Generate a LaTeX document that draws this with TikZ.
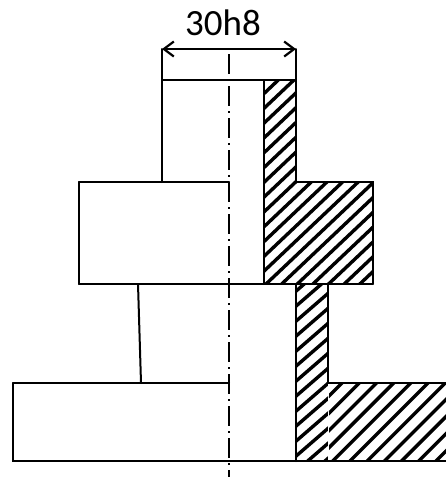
\documentclass[tikz,border=0pt]{standalone}
\usepackage{fontspec}
\setmainfont{Carlito}
\usetikzlibrary{arrows.meta}
\tikzset{
  outline/.style={line width=2pt,black,line cap=round,line join=miter},
  hatchline/.style={line width=3.4pt,black},
  axis/.style={line width=1.7pt,black,dash pattern=on 20pt off 5pt on 2pt off 5pt},
  dimline/.style={line width=2pt,black,{Straight Barb[length=10pt,width=15pt,line width=2.2pt]}-{Straight Barb[length=10pt,width=15pt,line width=2.2pt]}},
  dimtext/.style={font=\fontsize{37}{37}\selectfont,text=black,inner sep=0pt}
}
\begin{document}
\begin{tikzpicture}[x=1pt,y=-1pt]
\useasboundingbox (0,0) rectangle (446,477);
\fill[white] (0,0) rectangle (446,477);
% hatching: upper section
\begin{scope}
  \clip (264,80) -- (296,80) -- (296,182) -- (373,182) -- (373,284) -- (264,284) -- cycle;
  \foreach \k in {0,...,30}{
    \draw[hatchline] (250,{92+\k*14.8}) -- (400,{92+\k*14.8-142});
  }
\end{scope}
% hatching: lower sleeve
\begin{scope}
  \clip (296,284) -- (328,284) -- (328,461) -- (296,461) -- cycle;
  \foreach \k in {0,...,20}{
    \draw[hatchline] (280,{305+\k*15}) -- (340,{305+\k*15-52});
  }
\end{scope}
% hatching: flange
\begin{scope}
  \clip (329,383) -- (446,383) -- (446,461) -- (329,461) -- cycle;
  \foreach \k in {0,...,20}{
    \draw[hatchline] (320,{405+\k*17.2}) -- (470,{405+\k*17.2-150});
  }
\end{scope}
\draw[white,line width=1.3pt,dash pattern=on 9pt off 5pt] (328.5,384) -- (328.5,460);
% outline of the section
\draw[outline] (264,80) -- (264,284);
\draw[outline] (296,80) -- (296,182) -- (373,182) -- (373,284);
\draw[outline] (328,284) -- (328,383) -- (446,383);
\draw[outline] (296,284) -- (296,461);
% outline of the half view
\draw[outline] (162,49) -- (162,182);
\draw[outline] (296,49) -- (296,80);
\draw[outline] (162,80) -- (296,80);
\draw[outline] (79,182) -- (229,182);
\draw[outline] (79,182) -- (79,284);
\draw[outline] (79,284) -- (373,284);
\draw[outline] (138,284) -- (141,383);
\draw[outline] (13,383) -- (229,383);
\draw[outline] (13,383) -- (13,461) -- (446,461);
% centre line
\draw[axis] (229,54) -- (229,477);
% dimension
\coordinate (dl) at (162,49);
\coordinate (dr) at (296,49);
\draw[dimline] (dl) -- (dr);
\node[dimtext] (dimlabel) at (223,23) {30h8};
\end{tikzpicture}
\end{document}
